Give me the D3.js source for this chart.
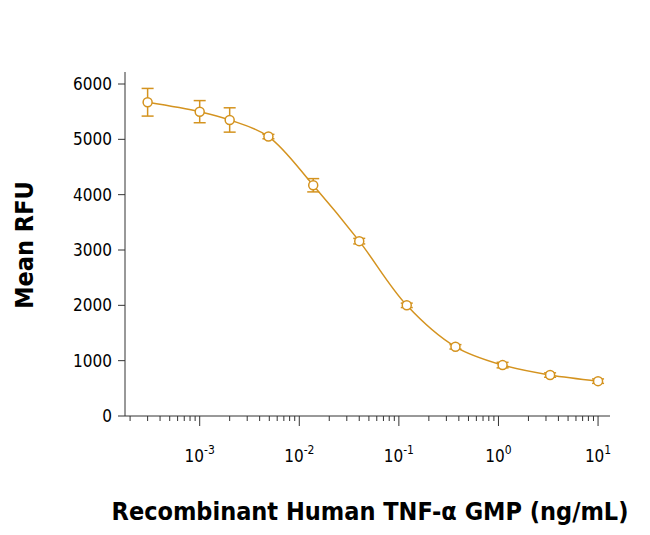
<!DOCTYPE html><html><head><script src="https://cdn.jsdelivr.net/npm/d3@7"></script>
<style>body{margin:0;background:#fff}</style></head><body><svg id="c" width="650" height="535"></svg>
<script>
const conc=[0.0003,0.001,0.002,0.0049,0.0138,0.04,0.12,0.37,1.1,3.3,10];
const rfu=[5670,5500,5350,5050,4170,3160,2000,1250,920,740,630];
const err=[250,200,220,40,120,50,40,40,50,40,40];
const yTicks=[0,1000,2000,3000,4000,5000,6000];
const xExp=[-3,-2,-1,0,1];
const col="#d4931f";
const svg=d3.select("#c");
const x=d3.scaleLog().domain([Math.pow(10,-3.75),Math.pow(10,1.12)]).range([125,610]);
const y=d3.scaleLinear().domain([0,6000]).range([416,84]);
const font="DejaVu Sans Condensed, sans-serif";
// y axis
svg.append("line").attr("x1",125).attr("x2",125).attr("y1",72).attr("y2",416).attr("stroke","#333");
yTicks.forEach(t=>{svg.append("line").attr("x1",118).attr("x2",125).attr("y1",y(t)).attr("y2",y(t)).attr("stroke","#333");
svg.append("text").attr("x",112).attr("y",y(t)+6).attr("text-anchor","end").attr("font-family",font).attr("font-size",17).text(t);});
// x axis
svg.append("line").attr("x1",125).attr("x2",610).attr("y1",416).attr("y2",416).attr("stroke","#333");
for(let e=-4;e<=1;e++){for(let m=1;m<10;m++){const v=m*Math.pow(10,e);if(v<x.domain()[0]||v>x.domain()[1])continue;
svg.append("line").attr("x1",x(v)).attr("x2",x(v)).attr("y1",416).attr("y2",m==1?426:421).attr("stroke","#333");}}
xExp.forEach(e=>{const t=svg.append("text").attr("x",x(Math.pow(10,e))).attr("y",462).attr("text-anchor","middle").attr("font-family",font).attr("font-size",17);
t.append("tspan").text("10");t.append("tspan").attr("dy",-8).attr("font-size",12).text(e);});
// curve
svg.append("path").datum(conc.map((c,i)=>[c,rfu[i]])).attr("fill","none").attr("stroke",col).attr("stroke-width",1.5)
.attr("d",d3.line().x(d=>x(d[0])).y(d=>y(d[1])).curve(d3.curveCatmullRom));
conc.forEach((c,i)=>{const cx=x(c);
svg.append("line").attr("x1",cx).attr("x2",cx).attr("y1",y(rfu[i]-err[i])).attr("y2",y(rfu[i]+err[i])).attr("stroke",col).attr("stroke-width",1.5);
[rfu[i]-err[i],rfu[i]+err[i]].forEach(v=>svg.append("line").attr("x1",cx-6).attr("x2",cx+6).attr("y1",y(v)).attr("y2",y(v)).attr("stroke",col).attr("stroke-width",1.5));
svg.append("circle").attr("cx",cx).attr("cy",y(rfu[i])).attr("r",4.5).attr("fill","#fff").attr("stroke",col).attr("stroke-width",1.5);});
svg.append("text").attr("transform","translate(33,245) rotate(-90)").attr("text-anchor","middle").attr("font-family",font).attr("font-weight","bold").attr("font-size",25).text("Mean RFU");
svg.append("text").attr("x",370).attr("y",520).attr("text-anchor","middle").attr("font-family",font).attr("font-weight","bold").attr("font-size",25).text("Recombinant Human TNF-α GMP (ng/mL)");
</script></body></html>
